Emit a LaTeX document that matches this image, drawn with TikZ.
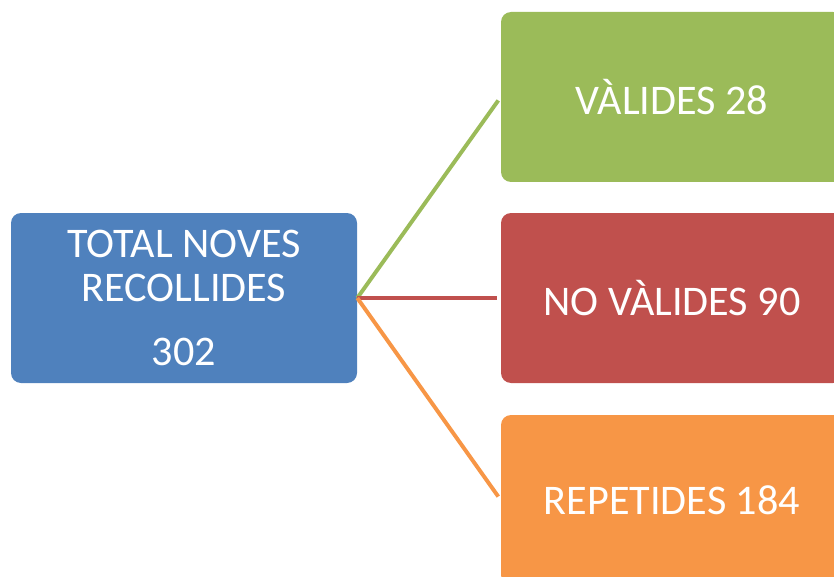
\documentclass[tikz,border=0pt]{standalone}
\usepackage{fontspec}
\setmainfont{Carlito}
\usepackage{xcolor}
\usepackage{tikz}
\usetikzlibrary{positioning}

\definecolor{boxblue}{HTML}{4F81BD}
\definecolor{boxgreen}{HTML}{9BBB59}
\definecolor{boxred}{HTML}{C0504D}
\definecolor{boxorange}{HTML}{F79646}

\tikzset{
  catbox/.style={rounded corners=0.25cm, text=white, align=center,
    minimum width=342*0.025cm, minimum height=170*0.025cm,
    font=\fontsize{30}{31}\selectfont, inner sep=0pt},
  link/.style={line width=2.8pt, shorten >=3pt}
}

\begin{document}
\begin{tikzpicture}[x=0.025cm, y=-0.025cm]
    \clip (0,0) rectangle (834,577);
    \node[catbox, fill=boxblue, minimum width=346*0.025cm] (total) at (184,298)
        {TOTAL NOVES\\RECOLLIDES\\[0.52cm]302};
    \node[catbox, fill=boxgreen] (valides) at (672,97) {VÀLIDES 28};
    \node[catbox, fill=boxred] (novalides) at (672,298) {NO VÀLIDES 90};
    \node[catbox, fill=boxorange] (repetides) at (672,500) {REPETIDES 184};
    \draw[link, boxgreen] (total.east) -- (valides.west);
    \draw[link, boxred] (total.east) -- (novalides.west);
    \draw[link, boxorange] (total.east) -- (repetides.west);
\end{tikzpicture}
\end{document}
